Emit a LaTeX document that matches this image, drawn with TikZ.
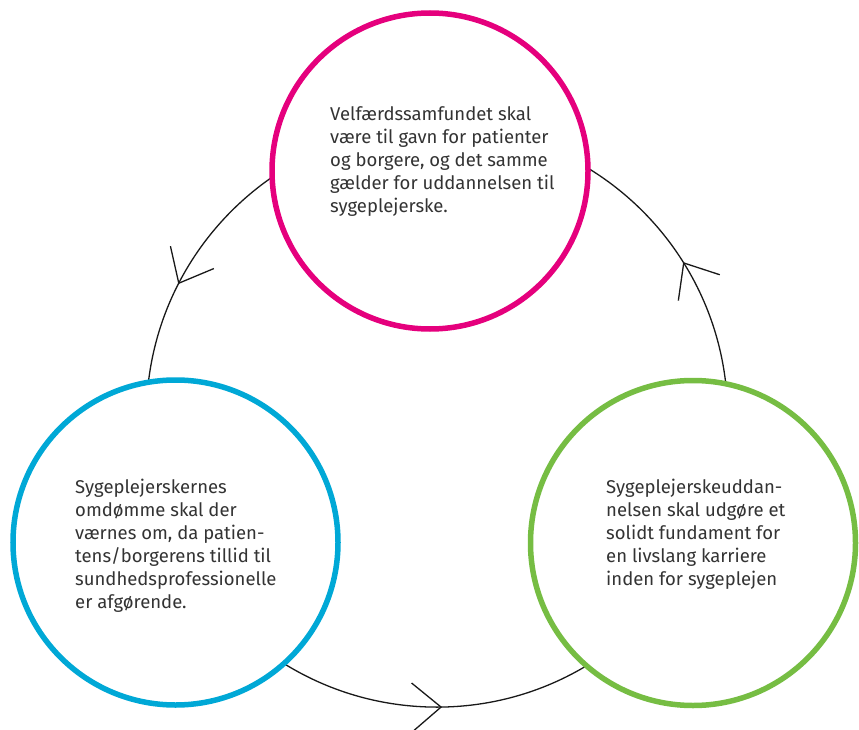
\documentclass[tikz,border=0pt]{standalone}
\usepackage{fontspec}
\setmainfont{Fira Sans}
\usetikzlibrary{calc}
\definecolor{mag}{HTML}{E5007D}
\definecolor{cyanc}{HTML}{00A8D6}
\definecolor{grn}{HTML}{76BD43}
\definecolor{txt}{HTML}{333333}
\begin{document}
\begin{tikzpicture}[x=1pt,y=1pt,
  bubble/.style={circle, draw, line width=5.5pt, fill=white, inner sep=0pt},
  cyc/.style={line width=1.3pt, black!90},
  barb/.style={line width=1.3pt, black!90, line join=miter},
  lbl/.style={font=\fontsize{18.5}{23}\selectfont, text=txt, align=left, anchor=north west, inner sep=0pt}]
\useasboundingbox (0,0) rectangle (859,-730);
\coordinate (cc) at (437,-416.5);
\draw[cyc] (cc) circle[radius=290.6pt];
\foreach \a [count=\i] in {31.9,152.7,270.8} {
  \coordinate (t\i) at ($(cc)+(\a:290.6pt)$);
  \draw[barb] ($(t\i)+(\a-50:38pt)$) -- (t\i) -- ($(t\i)+(\a-130:38pt)$);
}
\node[bubble, draw=mag, minimum size=316pt] (top) at (430,-171) {};
\node[bubble, draw=cyanc, minimum size=325pt] (left) at (175.5,-542.5) {};
\node[bubble, draw=grn, minimum size=325pt] (right) at (693,-543) {};
\node[lbl] (ttop) at (330,-106.4) {Velfærdssamfundet skal\\være til gavn for patienter\\og borgere, og det samme\\gælder for uddannelsen til\\sygeplejerske.};
\node[lbl] (tleft) at (75,-478.4) {Sygeplejerskernes\\omdømme skal der\\værnes om, da patien-\\tens/borgerens tillid til\\sundhedsprofessionelle\\er afgørende.};
\node[lbl] (tright) at (606,-478.4) {Sygeplejerskeuddan-\\nelsen skal udgøre et\\solidt fundament for\\en livslang karriere\\inden for sygeplejen};
\end{tikzpicture}
\end{document}
